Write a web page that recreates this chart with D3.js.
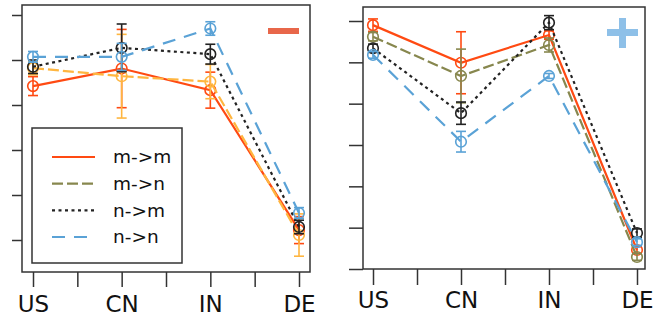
<!DOCTYPE html>
<html>
<head>
<meta charset="utf-8">
<script src="https://cdn.jsdelivr.net/npm/d3@7"></script>
<style>
  body { margin: 0; background: #fff; }
  svg { display: block; }
</style>
</head>
<body>
<div id="chart"></div>
<script>
// countries on the x axis
const countries = ["US", "CN", "IN", "DE"];
const seriesNames = ["m->m", "m->n", "n->m", "n->n"];

// left panel (minus), values in tick units
const leftValues = {
  "m->m": [3.42, 3.81, 3.33, 0.22],
  "m->n": [3.82, 3.64, 3.52, 0.11],
  "n->m": [3.85, 4.27, 4.13, 0.29],
  "n->n": [4.07, 4.07, 4.70, 0.60]
};
const leftErrors = {
  "m->m": [0.21, 0.87, 0.40, 0.30],
  "m->n": [0.15, 0.93, 0.38, 0.47],
  "n->m": [0.15, 0.53, 0.22, 0.15],
  "n->n": [0.12, 0.30, 0.15, 0.12]
};

// right panel (plus)
const rightValues = {
  "m->m": [5.90, 4.99, 5.66, 0.46],
  "m->n": [5.62, 4.67, 5.42, 0.29],
  "n->m": [5.34, 3.77, 5.96, 0.87],
  "n->n": [5.18, 3.08, 4.67, 0.65]
};
const rightErrors = {
  "m->m": [0.15, 0.75, 0.10, 0.08],
  "m->n": [0.10, 0.65, 0.17, 0.08],
  "n->m": [0.10, 0.27, 0.17, 0.10],
  "n->n": [0.08, 0.25, 0.06, 0.08]
};

const styles = {
  "m->m": { color: "#ff4a12", dash: null },
  "m->n": { color: "#87874e", dash: "11,4" },
  "n->m": { color: "#222222", dash: "3,3.5" },
  "n->n": { color: "#5aa2d6", dash: "13,9" }
};
// in the left panel m->n is drawn in orange
const leftColorOverride = { "m->n": "#ffb640" };

const svg = d3.select("#chart").append("svg")
  .attr("width", 653)
  .attr("height", 320);

function drawPanel(p) {
  const g = svg.append("g");

  const y = d3.scaleLinear().domain(p.yDomain).range([p.yBottom, p.yTop]);
  const x = d3.scaleLinear().domain([0, 3]).range([p.x0, p.x1]);

  // frame
  g.append("rect")
    .attr("x", p.left).attr("y", p.top)
    .attr("width", p.right - p.left).attr("height", p.bottom - p.top)
    .attr("fill", "none").attr("stroke", "#333").attr("stroke-width", 1.5);

  // y ticks, no labels
  g.append("g")
    .attr("transform", `translate(${p.left},0)`)
    .call(d3.axisLeft(y).tickValues(d3.range(p.yDomain[0], p.yDomain[1] + 1)).tickSize(p.yTick).tickFormat(""))
    .call(a => a.select(".domain").remove())
    .call(a => a.selectAll("line").attr("stroke", "#333").attr("stroke-width", 1.5));

  // x ticks with minor ticks between countries
  g.append("g")
    .attr("transform", `translate(0,${p.bottom})`)
    .call(d3.axisBottom(x).tickValues(d3.range(0, 3.01, 0.5)).tickSize(p.xTick)
      .tickFormat(d => Number.isInteger(d) ? countries[d] : ""))
    .call(a => a.select(".domain").remove())
    .call(a => a.selectAll("line").attr("stroke", "#333").attr("stroke-width", 1.5))
    .call(a => a.selectAll("text")
      .attr("font-family", "DejaVu Sans, sans-serif")
      .attr("font-size", 23)
      .attr("fill", "#111")
      .attr("dy", null)
      .attr("y", p.labelY - p.bottom));

  const line = d3.line().x((d, i) => x(i)).y(d => y(d));

  seriesNames.forEach(name => {
    const vals = p.values[name];
    const errs = p.errors[name];
    const color = (p.colorOverride && p.colorOverride[name]) || styles[name].color;

    g.append("path")
      .datum(vals)
      .attr("d", line)
      .attr("fill", "none")
      .attr("stroke", color)
      .attr("stroke-width", 2.2)
      .attr("stroke-dasharray", styles[name].dash);

    const pts = g.append("g").selectAll("g")
      .data(vals.map((v, i) => ({ v: v, e: errs[i], i: i })))
      .join("g")
      .attr("stroke", color)
      .attr("stroke-width", 1.6)
      .attr("fill", "none");

    pts.append("line")
      .attr("x1", d => x(d.i)).attr("x2", d => x(d.i))
      .attr("y1", d => y(d.v - d.e)).attr("y2", d => y(d.v + d.e));
    pts.append("line")
      .attr("x1", d => x(d.i) - 5).attr("x2", d => x(d.i) + 5)
      .attr("y1", d => y(d.v + d.e)).attr("y2", d => y(d.v + d.e));
    pts.append("line")
      .attr("x1", d => x(d.i) - 5).attr("x2", d => x(d.i) + 5)
      .attr("y1", d => y(d.v - d.e)).attr("y2", d => y(d.v - d.e));
    pts.append("circle")
      .attr("cx", d => x(d.i)).attr("cy", d => y(d.v))
      .attr("r", 5.3);
  });

  return g;
}

const leftG = drawPanel({
  left: 22, right: 310, top: 5, bottom: 272,
  x0: 33, x1: 299, yDomain: [0, 5], yBottom: 240, yTop: 15,
  yTick: 10, xTick: 15, labelY: 312,
  values: leftValues, errors: leftErrors, colorOverride: leftColorOverride
});

const rightG = drawPanel({
  left: 363, right: 645, top: 7, bottom: 269,
  x0: 373, x1: 637, yDomain: [0, 6], yBottom: 269, yTop: 21,
  yTick: 14, xTick: 16, labelY: 308,
  values: rightValues, errors: rightErrors
});

// minus sign in the left panel
leftG.append("rect")
  .attr("x", 268).attr("y", 28).attr("width", 31).attr("height", 6)
  .attr("fill", "#e8674a");

// plus sign in the right panel
rightG.append("rect")
  .attr("x", 607).attr("y", 29).attr("width", 31).attr("height", 7)
  .attr("fill", "#8ec0e8");
rightG.append("rect")
  .attr("x", 619).attr("y", 18).attr("width", 7).attr("height", 30)
  .attr("fill", "#8ec0e8");

// legend
const legend = leftG.append("g");
legend.append("rect")
  .attr("x", 32).attr("y", 128).attr("width", 150).attr("height", 135)
  .attr("fill", "#fff").attr("stroke", "#333").attr("stroke-width", 1.5);

const rowY = d3.scalePoint().domain(seriesNames).range([157, 237]);
seriesNames.forEach(name => {
  legend.append("line")
    .attr("x1", 52).attr("x2", 95)
    .attr("y1", rowY(name)).attr("y2", rowY(name))
    .attr("stroke", styles[name].color)
    .attr("stroke-width", 2.2)
    .attr("stroke-dasharray", styles[name].dash);
  legend.append("text")
    .attr("x", 113).attr("y", rowY(name))
    .attr("dy", "0.35em")
    .attr("font-family", "DejaVu Sans, sans-serif")
    .attr("font-size", 18.5)
    .attr("fill", "#111")
    .text(name);
});
</script>
</body>
</html>
